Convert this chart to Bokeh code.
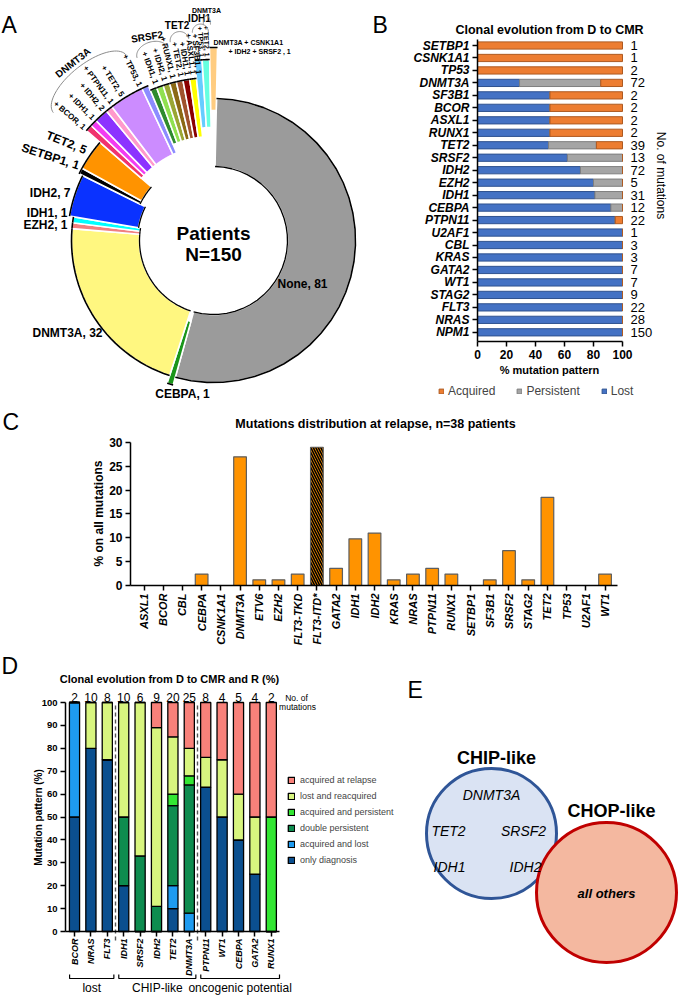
import math
from bokeh.plotting import figure
from bokeh.models import (Range1d, ColumnDataSource, FixedTicker, LinearAxis, Legend, LegendItem)
from bokeh.layouts import column, row
from bokeh.embed import file_html
from bokeh.resources import INLINE
from bokeh.core.properties import value

FONT = "Liberation Sans"

# ---------------- Panel A data ----------------
a_main_names = ["None", "CEBPA", "DNMT3A", "EZH2", "IDH1", "IDH2", "SETBP1", "TET2"]
a_main_counts = [81, 1, 32, 1, 1, 7, 1, 5]
a_combo_base = ["DNMT3A"] * 6 + ["SRSF2"] * 3 + ["TET2"] * 3 + ["IDH1"] * 2 + ["DNMT3A"]
a_combo_partner = ["BCOR", "IDH1", "IDH2", "PTPN11", "TET2", "TP53",
                   "IDH1", "IDH2", "RUNX1", "TET2", "IDH1", "ASXL1", "SF3B1", "TP53", "TET2"]
a_combo_counts = [1, 1, 2, 1, 5, 1, 1, 1, 1, 1, 1, 1, 1, 1, 1]
a_quad_genes = ["DNMT3A", "CSNK1A1", "IDH2", "SRSF2"]
a_quad_count = 1
a_total = 150

# ---------------- Panel B data ----------------
b_genes = ["SETBP1", "CSNK1A1", "TP53", "DNMT3A", "SF3B1", "BCOR", "ASXL1", "RUNX1", "TET2",
           "SRSF2", "IDH2", "EZH2", "IDH1", "CEBPA", "PTPN11", "U2AF1", "CBL", "KRAS", "GATA2",
           "WT1", "STAG2", "FLT3", "NRAS", "NPM1"]
b_lost = [0, 0, 0, 29, 50, 50, 50, 50, 49, 62, 71, 80, 81, 92, 95, 100, 100, 100, 100, 100, 100, 100, 100, 100]
b_persistent = [0, 0, 0, 56, 0, 0, 0, 0, 33, 38, 29, 20, 19, 8, 0, 0, 0, 0, 0, 0, 0, 0, 0, 0]
b_acquired = [100, 100, 100, 15, 50, 50, 50, 50, 18, 0, 0, 0, 0, 0, 5, 0, 0, 0, 0, 0, 0, 0, 0, 0]
b_counts = [1, 1, 2, 72, 2, 2, 2, 2, 39, 13, 72, 5, 31, 12, 22, 1, 3, 3, 7, 7, 9, 22, 28, 150]
b_xticks = [0, 20, 40, 60, 80, 100]

# ---------------- Panel C data ----------------
c_genes = ["ASXL1", "BCOR", "CBL", "CEBPA", "CSNK1A1", "DNMT3A", "ETV6", "EZH2", "FLT3-TKD",
           "FLT3-ITD*", "GATA2", "IDH1", "IDH2", "KRAS", "NRAS", "PTPN11", "RUNX1", "SETBP1",
           "SF3B1", "SRSF2", "STAG2", "TET2", "TP53", "U2AF1", "WT1"]
c_pct = [0, 0, 0, 2.4, 0, 27.0, 1.2, 1.2, 2.4, 29.0, 3.6, 9.8, 11.0, 1.2, 2.4, 3.6, 2.4, 0,
         1.2, 7.3, 1.2, 18.5, 0, 0, 2.4]
c_hatched = ["FLT3-ITD*"]
c_yticks = [0, 5, 10, 15, 20, 25, 30]

# ---------------- Panel D data ----------------
d_genes = ["BCOR", "NRAS", "FLT3", "IDH1", "SRSF2", "IDH2", "TET2", "DNMT3A", "PTPN11",
           "WT1", "CEBPA", "GATA2", "RUNX1"]
d_counts = [2, 10, 8, 10, 6, 9, 20, 25, 8, 4, 5, 4, 2]
d_only_dx = [50, 80, 75, 20, 0, 0, 10, 0, 63, 50, 40, 25, 0]
d_acq_lost = [50, 0, 0, 0, 0, 0, 10, 8, 0, 0, 0, 0, 0]
d_double = [0, 0, 0, 30, 33, 11, 35, 56, 0, 0, 0, 0, 0]
d_acq_pers = [0, 0, 0, 0, 0, 0, 5, 4, 0, 0, 0, 0, 50]
d_lost_reacq = [0, 20, 25, 50, 67, 78, 25, 12, 13, 25, 20, 25, 0]
d_acq_rel = [0, 0, 0, 0, 0, 11, 15, 20, 24, 25, 40, 50, 50]
d_series = ["only diagnosis", "acquired and lost", "double persistent",
            "acquired and persistent", "lost and reacquired", "acquired at relapse"]
d_groups = ["lost", "CHIP-like", "oncogenic potential"]
d_group_first = [0, 3, 8]
d_group_last = [2, 7, 12]
d_yticks = list(range(0, 101, 10))

# ---------------- Panel E data ----------------
e_chip_genes = ["DNMT3A", "TET2", "SRSF2", "IDH1", "IDH2"]
e_chop_text = "all others"


def panel(px0, py0, w, h, sx, ox, sy, oy):
    """Figure whose frame fills the canvas; data x = (px-ox)/sx, data y = (oy-py)/sy."""
    X = lambda px: (px - ox) / sx
    Y = lambda py: (oy - py) / sy
    p = figure(width=w, height=h, x_range=Range1d(X(px0), X(px0 + w)),
               y_range=Range1d(Y(py0 + h), Y(py0)), x_axis_location=None, y_axis_location=None,
               min_border=0, output_backend="svg", toolbar_location=None,
               background_fill_color="white", border_fill_color="white", outline_line_color=None)
    p.grid.visible = False
    return p, X, Y


def txt(p, x, y, text, size, style="normal", align="center", baseline="middle", angle=0.0,
        color="black"):
    p.text(x=[x], y=[y], text=[text], angle=[angle], text_font=value(FONT),
           text_font_size=size, text_font_style=style, text_align=align,
           text_baseline=baseline, text_color=color)


def add_axis(p, side, fixed, bounds, ticks, overrides=None, size="12px", style="bold",
             orient=None, standoff=3):
    ax = LinearAxis(fixed_location=fixed, bounds=bounds, ticker=FixedTicker(ticks=ticks))
    ax.axis_line_width = 1.5
    ax.axis_line_color = "black"
    ax.major_tick_line_width = 1.5
    ax.major_tick_out = 5
    ax.major_tick_in = 0
    ax.minor_tick_line_color = None
    ax.major_label_text_font = FONT
    ax.major_label_text_font_style = style
    ax.major_label_text_font_size = size
    ax.major_label_text_color = "black"
    ax.major_label_standoff = standoff
    if overrides:
        ax.major_label_overrides = overrides
    if orient is not None:
        ax.major_label_orientation = orient
    p.add_layout(ax, side)
    return ax


# =====================================================================
# Panel A : donut
# =====================================================================
pA, XA, YA = panel(0, 0, 365, 410, 1.0, 0.0, 1.0, 0.0)
CX, CY = 213.0, 240.0


def pa(r, deg):
    t = math.radians(deg)
    return XA(CX + r * math.cos(t)), YA(CY - r * math.sin(t))


a_main_colors = ["#9B9B9B", "#1A961A", "#FFF780", "#F08080", "#00FFFF", "#0A32FF", "#000000", "#FF9300"]
a_combo_colors = ["#F0336E", "#F23CF2", "#8C33FF", "#FF99CC", "#CC8CFF", "#8C8CFF",
                  "#2E8B2E", "#90E050", "#9AA634", "#8B6914", "#A0522D", "#8B0000", "#FFFF00",
                  "#66CCFF", "#66FFE0"]
a_quad_color = "#FFCC80"
a_main_rin = [74, 84, 74, 74, 74, 76, 82, 82]
a_main_rout = [142, 150, 142, 142, 142, 146, 150, 150]
a_combo_rin = [95] * 6 + [104] * 7 + [113] * 2
a_combo_rout = [168] * 6 + [163] * 7 + [181] * 2
a_quad_rin, a_quad_rout = 130, 193
A_START = 88.8

segs = []
for n, c, ri, ro in zip(a_main_counts, a_main_colors, a_main_rin, a_main_rout):
    segs.append((n, c, ri, ro, True))
for n, c, ri, ro in zip(a_combo_counts, a_combo_colors, a_combo_rin, a_combo_rout):
    segs.append((n, c, ri, ro, False))
segs.append((a_quad_count, a_quad_color, a_quad_rin, a_quad_rout, False))

deg_per = 360.0 / a_total
cum = 0
pxs, pys, pcols = [], [], []
oxs, oys, ixs, iys = [], [], [], []
for (n, c, ri, ro, main) in segs:
    a0 = A_START - cum * deg_per
    a1 = A_START - (cum + n) * deg_per
    cum += n
    angs = [a0 + (a1 - a0) * k / 30 for k in range(31)]
    outer = [pa(ro, a) for a in angs]
    inner = [pa(ri, a) for a in reversed(angs)]
    pxs.append([q[0] for q in outer + inner])
    pys.append([q[1] for q in outer + inner])
    pcols.append(c)
    oxs.append([q[0] for q in outer])
    oys.append([q[1] for q in outer])
    if main and c != "#1A961A":
        ixs.append([q[0] for q in inner])
        iys.append([q[1] for q in inner])

pA.patches(pxs, pys, fill_color=pcols, line_color="white", line_width=1.6)
pA.multi_line(oxs, oys, line_color="black", line_width=1.6)
pA.multi_line(ixs, iys, line_color="black", line_width=1.3)

txt(pA, XA(CX), YA(233), "Patients", "19px", "bold")
txt(pA, XA(CX), YA(254), "N=%d" % a_total, "19px", "bold")

a_main_label_pos = [(302, 283, 0, "center"), (182, 393, 0, "center"), (67, 332, 0, "center"),
                    (67, 224, 0, "right"), (67, 212, 0, "right"), (70, 192, 0, "right"),
                    (50, 156, -18, "center"), (66, 142, -22, "center")]
for name, n, (x, y, ang, al) in zip(a_main_names, a_main_counts, a_main_label_pos):
    txt(pA, XA(x), YA(y), "%s, %d" % (name, n), "12px", "bold", al, angle=math.radians(ang))

a_combo_label_ang = [139.0, 134.6, 130.2, 126.5, 122.3, 115.5, 110.2, 107.0, 104.0, 101.2,
                     99.0, 97.0, 95.2, 93.6, 92.0]
a_combo_label_r = [171] * 6 + [167] * 7 + [184] * 2
a_combo_label_size = ["8px"] * 13 + ["7px"] * 2
for partner, n, ang, r, fs in zip(a_combo_partner, a_combo_counts, a_combo_label_ang,
                                  a_combo_label_r, a_combo_label_size):
    x, y = pa(r, ang)
    txt(pA, x, y, "+ %s, %d" % (partner, n), fs, "bold", "right", angle=math.radians(ang - 180))

groups = []
for i, b in enumerate(a_combo_base):
    if groups and groups[-1][0] == b and groups[-1][2] == i - 1:
        groups[-1][2] = i
    else:
        groups.append([b, i, i])
a_arc_r = [205, 198, 203, 209, 216]
a_arc_pad = [(2.4, 0.3), (2.5, 0.6), (1.1, 0.0), (0.6, 2.2), (0.7, 1.2)]
a_arc_bulge = [20, 11, 9, 8, 9]
a_arc_gap = [7, 6, 6, 6, 5]
a_arc_tilt = [1.0, 0.5, 0.0, 0.0, 0.0]
a_arc_font = ["10px", "10px", "10px", "10px", "7px"]
arc_xs, arc_ys = [], []
for (name, i0, i1), R, (pad0, pad1), bul, gap, tilt, fs in zip(
        groups, a_arc_r, a_arc_pad, a_arc_bulge, a_arc_gap, a_arc_tilt, a_arc_font):
    p1 = pa(R, a_combo_label_ang[i0] + pad0)
    p2 = pa(R, a_combo_label_ang[i1] - pad1)
    mx, my = (p1[0] + p2[0]) / 2, (p1[1] + p2[1]) / 2
    h = math.hypot(p2[0] - p1[0], p2[1] - p1[1]) / 2
    ux, uy = (p1[0] - mx) / h, (p1[1] - my) / h
    vx, vy = -uy, ux
    if (mx - XA(CX)) * vx + (my - YA(CY)) * vy < 0:
        vx, vy = -vx, -vy
    ts = [math.pi * k / 40 for k in range(41)]
    arc_xs.append([mx + h * math.cos(t) * ux + bul * math.sin(t) * vx for t in ts])
    arc_ys.append([my + h * math.cos(t) * uy + bul * math.sin(t) * vy for t in ts])
    chord = math.atan2(p2[1] - p1[1], p2[0] - p1[0])
    txt(pA, mx + (bul + gap) * vx, my + (bul + gap) * vy, name, fs, "bold", angle=chord * tilt)
pA.multi_line(arc_xs, arc_ys, line_color="#8C8C8C", line_width=1.0)

txt(pA, XA(213), YA(42), " + ".join(a_quad_genes[:2]), "7px", "bold", "left")
txt(pA, XA(228), YA(51), "+ " + " + ".join(a_quad_genes[2:]) + " , %d" % a_quad_count,
    "7px", "bold", "left")
txt(pA, XA(1), YA(24), "A", "23px", align="left")

# =====================================================================
# Panel B
# =====================================================================
nB = len(b_genes)
pB, XB, YB = panel(365, 0, 320, 410, 1.45, 477.0, 12.47, 45 + (nB - 1) * 12.47)
b_y = [nB - 1 - i for i in range(nB)]
srcB = ColumnDataSource(dict(y=b_y, lost=b_lost, persistent=b_persistent, acquired=b_acquired))
rB = pB.hbar_stack(["lost", "persistent", "acquired"], y="y", height=0.58, source=srcB,
                   fill_color=["#4472C4", "#A5A5A5", "#ED7D31"],
                   line_color=["#2F528F", "#7F7F7F", "#AE5A21"], line_width=1.0)
b_ybot, b_ytop = YB(341), YB(38.5)
add_axis(pB, "left", 0, (b_ybot, b_ytop), list(range(nB)),
         {y: g for y, g in zip(b_y, b_genes)}, "12px", "bold italic")
add_axis(pB, "below", b_ybot, (0, 100), b_xticks, None, "12px", "bold")
pB.text(x=[XB(630)] * nB, y=b_y, text=[str(c) for c in b_counts], text_font=value(FONT),
        text_font_size="13px", text_align="left", text_baseline="middle")
txt(pB, XB(660), YB(175), "No. of mutations", "12px", angle=-math.pi / 2)
txt(pB, XB(549), YB(29), "Clonal evolution from D to CMR", "12.5px", "bold")
txt(pB, XB(372), YB(24), "B", "23px", align="left")
txt(pB, XB(549), YB(369), "% mutation pattern", "11px", "bold")
legB = Legend(items=[LegendItem(label="Acquired", renderers=[rB[2]]),
                     LegendItem(label="Persistent", renderers=[rB[1]]),
                     LegendItem(label="Lost", renderers=[rB[0]])],
              orientation="horizontal", location=(438 - 365, 410 - 398),
              border_line_color=None, background_fill_alpha=0, padding=0, margin=0,
              spacing=21, glyph_width=6, glyph_height=6, label_standoff=4, label_height=14,
              label_text_font=FONT, label_text_font_size="12px")
pB.add_layout(legB)

# =====================================================================
# Panel C
# =====================================================================
nC = len(c_genes)
pC, XC, YC = panel(0, 410, 685, 235, 19.21, 143.5, 4.767, 585.0)
xs_n = [i for i, g in enumerate(c_genes) if g not in c_hatched]
xs_h = [i for i, g in enumerate(c_genes) if g in c_hatched]
pC.vbar(x=xs_n, top=[c_pct[i] for i in xs_n], bottom=0, width=0.66, fill_color="#FF9300",
        line_color="#5E5E5E", line_width=1.2)
pC.vbar(x=xs_h, top=[c_pct[i] for i in xs_h], bottom=0, width=0.66, fill_color="#FF9300",
        line_color="#5E5E5E", line_width=1.2, hatch_pattern="left_diagonal_line",
        hatch_color="black", hatch_weight=1.6, hatch_scale=5)
add_axis(pC, "left", XC(130), (0, 30), c_yticks, None, "12px", "bold")
add_axis(pC, "below", 0, (XC(130), XC(617)), list(range(nC)),
         {i: g for i, g in enumerate(c_genes)}, "11px", "bold italic", math.pi / 2)
txt(pC, XC(98), YC(513), "% on all mutations", "12px", "bold", angle=math.pi / 2)
txt(pC, XC(375), YC(423), "Mutations distribution at relapse, n=38 patients", "12.5px", "bold")
txt(pC, XC(2), YC(421), "C", "23px", align="left")

# =====================================================================
# Panel D
# =====================================================================
nD = len(d_genes)
pD, XD, YD = panel(0, 645, 398, 350, 16.4, 74.0, 2.29, 931.0)
srcD = ColumnDataSource(dict(x=list(range(nD)), s0=d_only_dx, s1=d_acq_lost, s2=d_double,
                             s3=d_acq_pers, s4=d_lost_reacq, s5=d_acq_rel))
d_colors = ["#0B4F8F", "#1E9BF0", "#0E8C4F", "#33E633", "#D8F57F", "#F8817A"]
rD = pD.vbar_stack(["s0", "s1", "s2", "s3", "s4", "s5"], x="x", width=0.62, source=srcD,
                   fill_color=d_colors, line_color="black", line_width=1.3)
bounds = [(d_group_last[k] + d_group_first[k + 1]) / 2 for k in range(len(d_groups) - 1)]
pD.segment(x0=bounds, y0=[YD(940)] * len(bounds), x1=bounds, y1=[100] * len(bounds),
           line_color="#555555", line_width=1.4, line_dash="4 3")
add_axis(pD, "left", XD(65), (0, 100), d_yticks, None, "9.5px", "bold")
add_axis(pD, "below", 0, (XD(65), XD(279)), list(range(nD)),
         {i: g for i, g in enumerate(d_genes)}, "9px", "bold italic", math.pi / 2, standoff=2)
pD.text(x=list(range(nD)), y=[YD(697)] * nD, text=[str(c) for c in d_counts],
        text_font=value(FONT), text_font_size="12px", text_align="center", text_baseline="middle")
txt(pD, XD(296), YD(697), "No. of", "8.5px")
txt(pD, XD(297), YD(706), "mutations", "8.5px")
txt(pD, XD(169), YD(678), "Clonal evolution from D to CMR and R (%)", "11px", "bold")
txt(pD, XD(1), YD(665), "D", "23px", align="left")
txt(pD, XD(38), YD(817), "Mutation pattern (%)", "10px", "bold", angle=math.pi / 2)
br_xs, br_ys = [], []
for name, f, l in zip(d_groups, d_group_first, d_group_last):
    x0 = f - 0.3
    x1 = l + (0.5 if l == nD - 1 else 0.4)
    yb, yt = YD(978), YD(974)
    br_xs.append([x0, x0, x1, x1])
    br_ys.append([yt, yb, yb, yt])
    txt(pD, (x0 + x1) / 2, YD(987), name, "12px")
pD.multi_line(br_xs, br_ys, line_color="black", line_width=1.2)
legD = Legend(items=[LegendItem(label=d_series[k], renderers=[rD[k]]) for k in range(5, -1, -1)],
              location=(287, 995 - 866), border_line_color=None, background_fill_alpha=0,
              padding=0, margin=0, spacing=4, glyph_width=8, glyph_height=8, label_standoff=5,
              label_height=12, label_text_font=FONT, label_text_font_size="9px")
pD.add_layout(legD)

# =====================================================================
# Panel E
# =====================================================================
pE, XE, YE = panel(398, 645, 287, 350, 1.0, 0.0, 1.0, 0.0)
pE.scatter(x=[XE(491)], y=[YE(833)], size=130, marker="circle", fill_color="#DAE3F3",
           line_color="#2F5597", line_width=3)
pE.scatter(x=[XE(606)], y=[YE(892)], size=140, marker="circle", fill_color="#F4B8A0",
           line_color="#C00000", line_width=3)
e_pos = [(491, 794), (448, 830), (523, 830), (449, 866), (525, 866)]
for g, (x, y) in zip(e_chip_genes, e_pos):
    txt(pE, XE(x), YE(y), g, "14px", "italic")
txt(pE, XE(606), YE(893), e_chop_text, "13px", "bold italic")
txt(pE, XE(496), YE(757), "CHIP-like", "18px", "bold")
txt(pE, XE(611), YE(810), "CHOP-like", "18px", "bold")
txt(pE, XE(407), YE(689), "E", "23px", align="left")

layout = column(row(pA, pB, spacing=0), pC, row(pD, pE, spacing=0), spacing=0)
open("out.html", "w").write(file_html(layout, INLINE))
